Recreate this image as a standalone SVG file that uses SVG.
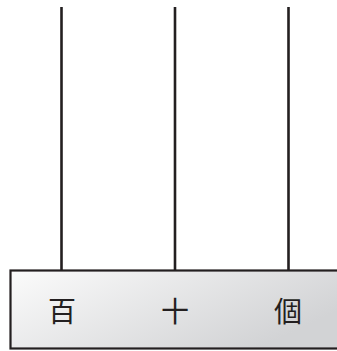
<svg xmlns="http://www.w3.org/2000/svg" width="337" height="351" viewBox="0 0 337 351">
<style>
.rod{stroke:#231f20;stroke-width:2.6;fill:none}
.lbl{font-family:"Noto Sans CJK TC","Noto Sans CJK SC",sans-serif;font-size:28px;font-weight:400;fill:#231f20;text-anchor:middle}
</style>
<defs>
<linearGradient id="g" x1="0" y1="0" x2="1" y2="0.5">
<stop offset="0" stop-color="#fbfbfb"/>
<stop offset="1" stop-color="#d2d3d5"/>
</linearGradient>
</defs>
<g id="connectors">
<line class="rod" x1="61.5" y1="7" x2="61.5" y2="271"/>
<line class="rod" x1="175" y1="7" x2="175" y2="271"/>
<line class="rod" x1="288.5" y1="7" x2="288.5" y2="271"/>
</g>
<g id="base">
<rect x="10.5" y="270.5" width="330" height="78" fill="url(#g)" stroke="#231f20" stroke-width="2.2"/>
</g>
<g id="hundreds"><text class="lbl" x="62" y="322">百</text></g>
<g id="tens"><text class="lbl" x="175" y="322">十</text></g>
<g id="ones"><text class="lbl" x="288" y="322">個</text></g>
</svg>
